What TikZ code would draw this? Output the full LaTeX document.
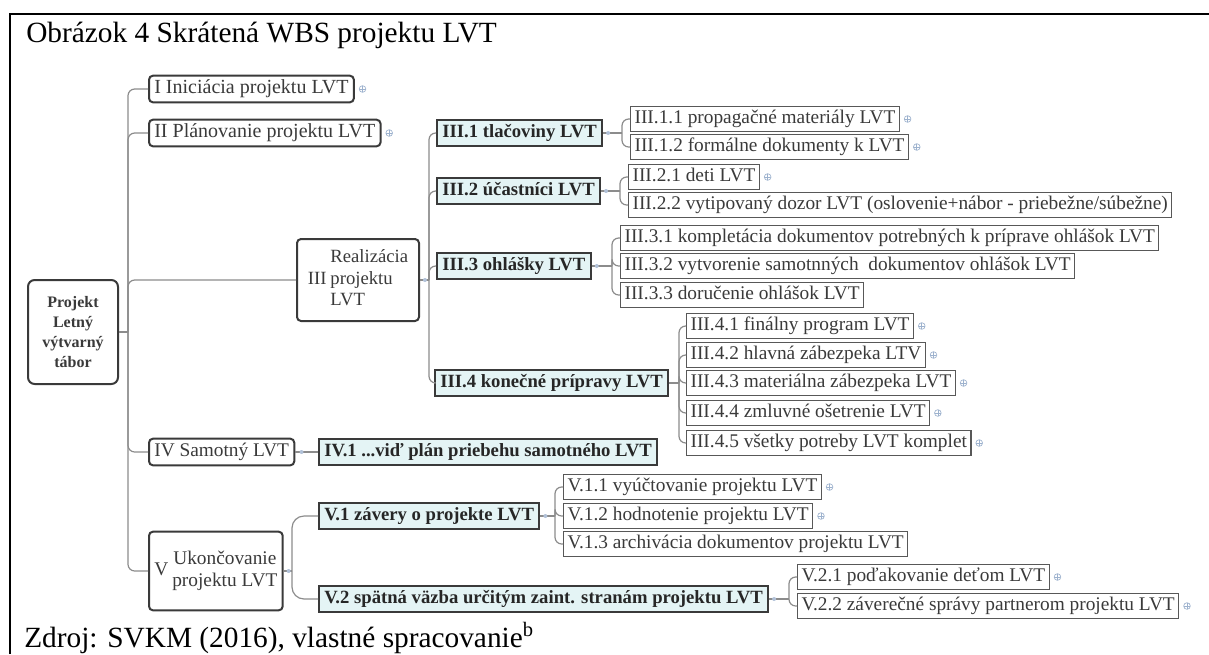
\documentclass[tikz,border=0pt]{standalone}
\usepackage{fontspec}
\setmainfont{Liberation Serif}
\usetikzlibrary{positioning}

\definecolor{wbsline}{HTML}{8C8C8C}
\definecolor{wbsframe}{HTML}{3A3A3A}
\definecolor{wbsfill}{HTML}{E4F4F5}
\definecolor{wbsmark}{HTML}{9DB2CE}

\tikzstyle{phase} = [rectangle, rounded corners=3pt, draw=wbsframe, line width=1.5pt, fill=white, text=wbsframe, inner sep=3pt, inner xsep=4pt, font=\fontsize{15}{16}\selectfont]
\tikzstyle{oneline} = [text height=10.5pt, text depth=3.5pt, inner ysep=1.5pt, minimum height=20pt]
\tikzstyle{package} = [rectangle, draw=wbsframe, line width=1.6pt, fill=wbsfill, text=black!85, inner xsep=4pt, font=\fontsize{14}{16}\selectfont\bfseries, oneline]
\tikzstyle{task} = [rectangle, draw=wbsframe!85, line width=0.9pt, fill=white, text=wbsframe, inner xsep=3pt, font=\fontsize{14.5}{16}\selectfont, oneline, minimum height=19pt]
\tikzstyle{branch} = [draw=wbsline, line width=0.9pt, rounded corners=5pt]
\tikzstyle{collapsed} = [circle, draw=wbsmark, line width=0.5pt, fill=white, inner sep=0pt, minimum size=5pt, path picture={\draw[wbsmark, line width=0.5pt] (path picture bounding box.west) -- (path picture bounding box.east) (path picture bounding box.north) -- (path picture bounding box.south);}]
\tikzstyle{expanded} = [circle, fill=wbsmark!80, inner sep=0pt, minimum size=3pt]

\begin{document}
\begin{tikzpicture}[x=0.75pt, y=-0.75pt]
\useasboundingbox (0,0) rectangle (1209,654);

% frame and captions
\draw[line width=2.2pt] (10,654) -- (10,14) -- (1209,14);
\node (title) [anchor=base west, inner sep=0pt, font=\fontsize{22}{26}\selectfont] at (26,42) {Obrázok 4 Skrátená WBS projektu LVT};
\node (source) [anchor=base west, inner sep=0pt, font=\fontsize{22}{26}\selectfont] at (24,647) {Zdroj: SVKM (2016), vlastné spracovanie\textsuperscript{b}};

% root and phases
\node (root) [phase, rounded corners=5pt, align=center, minimum width=67.5pt, minimum height=78pt, font=\fontsize{12}{15}\selectfont\bfseries] at (73,332) {Projekt\\Letný\\výtvarný\\tábor};
\coordinate (trunk) at (128,332);

\node (init) [phase, oneline, anchor=west] at (148,89) {I Iniciácia projektu LVT};
\node (plan) [phase, oneline, anchor=west] at (148,133) {II Plánovanie projektu LVT};
\node (real) [phase, anchor=west, minimum width=91.5pt, minimum height=61.5pt, font=\fontsize{14}{16}\selectfont] at (296,280) {III\hspace{3pt}\begin{tabular}[c]{@{}l@{}}Realizácia\\projektu\\LVT\end{tabular}};
\node (run) [phase, oneline, anchor=west, minimum width=100pt, font=\fontsize{14.5}{16}\selectfont] at (148,452) {IV Samotný LVT};
\node (close) [phase, anchor=west, minimum width=100pt, minimum height=59pt, font=\fontsize{14.5}{17}\selectfont] at (148,571) {V\hspace{3pt}\begin{tabular}[c]{@{}c@{}}Ukončovanie\\projektu LVT\end{tabular}};

\draw[branch] (root.east) -- (trunk);
\draw[branch] (trunk) |- (init.west);
\draw[branch] (trunk) |- (plan.west);
\draw[branch] (trunk) |- (real.west);
\draw[branch] (trunk) |- (run.west);
\draw[branch] (trunk) |- (close.west);

\node (initplus) [collapsed, right=3pt of init] {};
\node (planplus) [collapsed, right=3pt of plan] {};

% III realizacia
\node (print) [package, anchor=west] at (436,133) {III.1 tlačoviny LVT};
\node (people) [package, anchor=west] at (436,191) {III.2 účastníci LVT};
\node (notice) [package, anchor=west] at (436,266) {III.3 ohlášky LVT};
\node (prep) [package, anchor=west] at (434,383) {III.4 konečné prípravy LVT};

\coordinate (realfork) at (429,280);
\draw[branch] (real.east) -- (realfork);
\draw[branch] (realfork) |- (print.west);
\draw[branch] (realfork) |- (people.west);
\draw[branch] (realfork) |- (notice.west);
\draw[branch] (realfork) |- (prep.west);
\node (realdot) [expanded, right=2pt of real] {};

\node (print1) [task, anchor=west] at (630,119) {III.1.1 propagačné materiály LVT};
\node (print2) [task, anchor=west] at (630,147) {III.1.2 formálne dokumenty k LVT};
\coordinate (printfork) at (622,133);
\draw[branch] (print.east) -- (printfork);
\draw[branch] (printfork) |- (print1.west);
\draw[branch] (printfork) |- (print2.west);
\node (printdot) [expanded, right=2pt of print] {};
\node (print1plus) [collapsed, right=3pt of print1] {};
\node (print2plus) [collapsed, right=3pt of print2] {};

\node (people1) [task, anchor=west] at (628,177) {III.2.1 deti LVT};
\node (people2) [task, anchor=west] at (628,205) {III.2.2 vytipovaný dozor LVT (oslovenie+nábor - priebežne/súbežne)};
\coordinate (peoplefork) at (620,191);
\draw[branch] (people.east) -- (peoplefork);
\draw[branch] (peoplefork) |- (people1.west);
\draw[branch] (peoplefork) |- (people2.west);
\node (peopledot) [expanded, right=2pt of people] {};
\node (people1plus) [collapsed, right=3pt of people1] {};

\node (notice1) [task, anchor=west] at (620,238) {III.3.1 kompletácia dokumentov potrebných k príprave ohlášok LVT};
\node (notice2) [task, anchor=west] at (620,266) {III.3.2 vytvorenie samotnných \ dokumentov ohlášok LVT};
\node (notice3) [task, anchor=west] at (620,295) {III.3.3 doručenie ohlášok LVT};
\coordinate (noticefork) at (612,266);
\draw[branch] (notice.east) -- (noticefork);
\draw[branch] (noticefork) |- (notice1.west);
\draw[branch] (noticefork) |- (notice2.west);
\draw[branch] (noticefork) |- (notice3.west);
\node (noticedot) [expanded, right=2pt of notice] {};

\node (prep1) [task, anchor=west] at (686,326) {III.4.1 finálny program LVT};
\node (prep2) [task, anchor=west] at (686,355) {III.4.2 hlavná zábezpeka LTV};
\node (prep3) [task, anchor=west] at (686,383) {III.4.3 materiálna zábezpeka LVT};
\node (prep4) [task, anchor=west] at (686,413) {III.4.4 zmluvné ošetrenie LVT};
\node (prep5) [task, anchor=west] at (686,443) {III.4.5 všetky potreby LVT komplet};
\coordinate (prepfork) at (679,383);
\draw[branch] (prep.east) -- (prepfork);
\draw[branch] (prepfork) |- (prep1.west);
\draw[branch] (prepfork) |- (prep2.west);
\draw[branch] (prepfork) |- (prep3.west);
\draw[branch] (prepfork) |- (prep4.west);
\draw[branch] (prepfork) |- (prep5.west);
\node (prep1plus) [collapsed, right=3pt of prep1] {};
\node (prep2plus) [collapsed, right=3pt of prep2] {};
\node (prep3plus) [collapsed, right=3pt of prep3] {};
\node (prep4plus) [collapsed, right=3pt of prep4] {};
\node (prep5plus) [collapsed, right=3pt of prep5] {};

% IV samotny
\node (runplan) [package, anchor=west] at (318,452) {IV.1 ...viď plán priebehu samotného LVT};
\draw[branch] (run.east) -- (runplan.west);
\node (rundot) [expanded, right=3pt of run] {};

% V ukoncovanie
\node (review) [package, anchor=west] at (318,516) {V.1 závery o projekte LVT};
\node (feedback) [package, anchor=west] at (318,599) {V.2 spätná väzba určitým zaint. stranám projektu LVT};
\coordinate (closefork) at (292,571);
\draw[branch, rounded corners=9pt] (close.east) -- (closefork);
\draw[branch, rounded corners=9pt] (closefork) |- (review.west);
\draw[branch, rounded corners=9pt] (closefork) |- (feedback.west);
\node (closedot) [expanded, right=2pt of close] {};

\node (review1) [task, anchor=west] at (563,487) {V.1.1 vyúčtovanie projektu LVT};
\node (review2) [task, anchor=west] at (563,516) {V.1.2 hodnotenie projektu LVT};
\node (review3) [task, anchor=west] at (563,544) {V.1.3 archivácia dokumentov projektu LVT};
\coordinate (reviewfork) at (555,516);
\draw[branch] (review.east) -- (reviewfork);
\draw[branch] (reviewfork) |- (review1.west);
\draw[branch] (reviewfork) |- (review2.west);
\draw[branch] (reviewfork) |- (review3.west);
\node (reviewdot) [expanded, right=2pt of review] {};
\node (review1plus) [collapsed, right=3pt of review1] {};
\node (review2plus) [collapsed, right=3pt of review2] {};

\node (feedback1) [task, anchor=west] at (797,577) {V.2.1 poďakovanie deťom LVT};
\node (feedback2) [task, anchor=west] at (797,606) {V.2.2 záverečné správy partnerom projektu LVT};
\coordinate (feedbackfork) at (789,599);
\draw[branch] (feedback.east) -- (feedbackfork);
\draw[branch] (feedbackfork) |- (feedback1.west);
\draw[branch] (feedbackfork) |- (feedback2.west);
\node (feedbackdot) [expanded, right=2pt of feedback] {};
\node (feedback1plus) [collapsed, right=3pt of feedback1] {};
\node (feedback2plus) [collapsed, right=3pt of feedback2] {};

\end{tikzpicture}
\end{document}
